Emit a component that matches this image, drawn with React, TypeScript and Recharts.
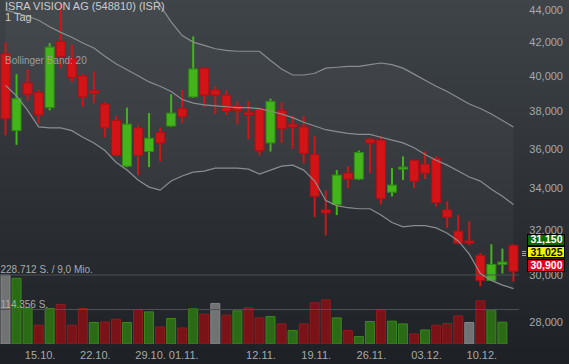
import React from 'react';
import { ComposedChart, Bar, Line, Area, XAxis, YAxis, ReferenceLine, Cell } from 'recharts';

// daily candles, ISRA VISION AG
const dates = [
  '10.10.', '11.10.', '12.10.', '15.10.', '16.10.', '17.10.', '18.10.', '19.10.', '22.10.', '23.10.',
  '24.10.', '25.10.', '26.10.', '29.10.', '30.10.', '31.10.', '01.11.', '02.11.', '05.11.', '06.11.',
  '07.11.', '08.11.', '09.11.', '12.11.', '13.11.', '14.11.', '15.11.', '16.11.', '19.11.', '20.11.',
  '21.11.', '22.11.', '23.11.', '26.11.', '27.11.', '28.11.', '29.11.', '30.11.', '03.12.', '04.12.',
  '05.12.', '06.12.', '07.12.', '10.12.', '11.12.', '12.12.', '13.12.',
];
const opens = [
  41300, 36950, 39600, 39050, 38200, 42050, 41050, 40000, 39150, 38400, 37500, 35100, 37100, 35850, 36850, 37200,
  38150, 38800, 40450, 39200, 38900, 38300, 37950, 38150, 36300, 38050, 37300, 37150, 35700, 32950, 33200, 34750,
  34450, 36500, 36450, 33800, 34950, 35400, 35200, 35500, 32950, 31950, 31500, 30850, 29750, 30450, 31300,
];
const highs = [
  42000, 40100, 40400, 39200, 41950, 44450, 41850, 40100, 40250, 38500, 37750, 38200, 37250, 37900, 37100, 38950,
  39200, 42350, 40500, 39400, 39150, 38550, 38550, 38200, 38700, 38500, 37750, 37750, 36650, 33900, 34900, 35100,
  35900, 36550, 36650, 35000, 35600, 35400, 35850, 35600, 33350, 32700, 32400, 30950, 31350, 31150, 31350,
];
const lows = [
  36700, 36200, 38600, 37350, 38050, 40450, 39650, 38250, 38450, 36600, 35600, 35050, 34650, 35050, 35350, 37150,
  37350, 38750, 38250, 37850, 37800, 37300, 36500, 35650, 35850, 36300, 36000, 35250, 32600, 31750, 32700, 34000,
  34400, 34750, 33200, 33600, 34400, 34000, 34450, 33100, 32100, 31350, 31300, 29500, 29750, 30050, 29700,
];
const closes = [
  37600, 38700, 38950, 37800, 41700, 41150, 39900, 38800, 39000, 37100, 35650, 37300, 35650, 36550, 36300, 37900,
  37700, 40400, 38900, 38900, 38000, 38050, 37800, 35900, 38550, 37050, 37150, 35750, 33600, 32800, 34650, 34450,
  35800, 36300, 33500, 34150, 35050, 34350, 34750, 33300, 32600, 31400, 31400, 29750, 30450, 30550, 30150,
];
const volumes = [
  228712, 217700, 119900, 62300, 117900, 131200, 62300, 117900, 71200, 73200, 82200, 71200, 113200, 106500, 56600,
  84600, 53300, 116500, 98900, 134500, 95500, 109900, 119900, 86600, 91200, 66600, 44600, 66600, 136500, 146500,
  86600, 44600, 24600, 74600, 112200, 75600, 66600, 33300, 46600, 62300, 67900, 93200, 71200, 143200, 113200,
  72200, null,
];
// Bollinger band (20)
const bbUpper = [
  48500, 48700, 49000, 49300, 48800, 48200, 47700, 47300, 47000, 46500, 46100, 45800, 45600, 45250, 44300, 43250,
  42400, 42000, 41800, 41600, 41500, 41450, 41450, 41450, 40900, 40400, 40050, 40050, 40150, 40450, 40500, 40550,
  40550, 40650, 40750, 40650, 40450, 40100, 39750, 39400, 39100, 38750, 38400, 38150, 37850, 37500, 37150,
];
const bbMiddle = [
  44000, 43800, 43600, 43350, 42950, 42600, 42300, 41950, 41650, 41150, 40700, 40350, 40000, 39650, 39400, 39100,
  38650, 38450, 38350, 38300, 38250, 38200, 38200, 38150, 38000, 37850, 37650, 37400, 37200, 37000, 36900, 36800,
  36750, 36750, 36600, 36450, 36300, 36050, 35700, 35400, 35150, 34850, 34550, 34350, 33950, 33600, 33200,
];
const bbLower = [
  39450, 38850, 38050, 37150, 37100, 37100, 36950, 36600, 36300, 35900, 35300, 34900, 34400, 34050, 33900, 34350,
  34600, 34800, 34850, 35000, 35000, 35000, 34950, 34700, 34900, 35100, 35150, 34900, 34350, 33400, 33150, 33050,
  33000, 33000, 32700, 32350, 32150, 32200, 32200, 32100, 31850, 31500, 30900, 30050, 29750, 29550, 29400,
];

const priceTicks = [28000, 30000, 32000, 34000, 36000, 38000, 40000, 42000, 44000];
const dateTicks = ['15.10.', '22.10.', '29.10.', '01.11.', '12.11.', '19.11.', '26.11.', '03.12.', '10.12.'];
const volumeMax = 228712;
const volumeHalf = 114356;

const data = dates.map((date, i) => ({
  date,
  open: opens[i],
  high: highs[i],
  low: lows[i],
  close: closes[i],
  range: [lows[i], highs[i]],
  volume: volumes[i],
  upper: bbUpper[i],
  middle: bbMiddle[i],
  lower: bbLower[i],
  band: [bbLower[i], bbUpper[i]],
}));

const volColor = (i: number) => {
  if (i === 0 || closes[i] === closes[i - 1]) return { fill: '#707274', stroke: '#858789' };
  if (closes[i] > closes[i - 1]) return { fill: '#2c6b16', stroke: '#3b8620' };
  return { fill: '#7a1317', stroke: '#8f1d21' };
};

const font = 'Arial, "Liberation Sans", sans-serif';

function CandleShape(props: any) {
  const { x, y, width, height, payload } = props;
  if (!payload || height == null) return null;
  const { open, close, high, low } = payload;
  const top = Math.min(y, y + height);
  const span = Math.abs(height);
  const lnHigh = Math.log(high);
  const lnSpan = lnHigh - Math.log(low);
  // log axis: pixel position is linear in ln(price)
  const py = (v: number) => top + (span * (lnHigh - Math.log(v))) / lnSpan;
  const up = close >= open;
  const cx = x + width / 2;
  const bodyTop = py(Math.max(open, close));
  const bodyH = Math.max(py(Math.min(open, close)) - bodyTop, 1.5);
  const fill = up ? '#43b51a' : '#d31417';
  const edge = up ? '#2f8a12' : '#a8121a';
  const bw = 9;
  return (
    <g>
      <line x1={cx} x2={cx} y1={top} y2={top + span} stroke={fill} strokeWidth={2} />
      <rect x={cx - bw / 2} y={bodyTop} width={bw} height={bodyH} fill={fill} stroke={edge} strokeWidth={1} />
    </g>
  );
}

const PriceTick = (props: any) => {
  const { y, payload } = props;
  return (
    <text x={563} y={y} dy={4} textAnchor="end" fill="#a7a9ab" fontSize={11} fontFamily={font}>
      {payload.value.toLocaleString('en-US')}
    </text>
  );
};

const DateTick = (props: any) => {
  const { x, payload } = props;
  return (
    <text x={x + 1.5} y={359} textAnchor="middle" fill="#a7a9ab" fontSize={11} fontFamily={font}>
      {payload.value}
    </text>
  );
};

export default function App() {
  return (
    <div
      style={{
        position: 'relative',
        width: 569,
        height: 364,
        background: 'linear-gradient(#3f4449, #1d2024)',
        fontFamily: font,
      }}
    >
      <style>{'body{margin:0}'}</style>
      <ComposedChart
        width={569}
        height={364}
        data={data}
        margin={{ top: 0, right: 0, bottom: 0, left: 0 }}
        barCategoryGap="10%"
      >
        <XAxis
          xAxisId="p"
          dataKey="date"
          ticks={dateTicks}
          interval={0}
          tickLine={false}
          axisLine={false}
          height={20}
          tick={<DateTick />}
        />
        <XAxis xAxisId="v" dataKey="date" hide />
        <YAxis
          yAxisId="p"
          orientation="right"
          scale="log"
          domain={[27134, 44641]}
          allowDataOverflow
          ticks={priceTicks}
          interval={0}
          tickLine={false}
          axisLine={false}
          width={50}
          tick={<PriceTick />}
        />
        <YAxis yAxisId="v" hide domain={[0, 1140000]} allowDataOverflow />
        <ReferenceLine xAxisId="v" yAxisId="v" y={volumeMax} stroke="#4c5155" strokeWidth={1} />
        <ReferenceLine xAxisId="v" yAxisId="v" y={volumeHalf} stroke="#4c5155" strokeWidth={1} />
        <Area
          xAxisId="p"
          yAxisId="p"
          dataKey="band"
          type="linear"
          stroke="none"
          fill="#ffffff"
          fillOpacity={0.035}
          dot={false}
          activeDot={false}
          isAnimationActive={false}
        />
        <Line xAxisId="p" yAxisId="p" dataKey="upper" type="linear" stroke="#8a8d90" strokeWidth={1.2} dot={false} activeDot={false} isAnimationActive={false} />
        <Line xAxisId="p" yAxisId="p" dataKey="middle" type="linear" stroke="#8a8d90" strokeWidth={1.2} dot={false} activeDot={false} isAnimationActive={false} />
        <Line xAxisId="p" yAxisId="p" dataKey="lower" type="linear" stroke="#8a8d90" strokeWidth={1.2} dot={false} activeDot={false} isAnimationActive={false} />
        <Bar xAxisId="v" yAxisId="v" dataKey="volume" barSize={9} isAnimationActive={false}>
          {data.map((d, i) => {
            const c = volColor(i);
            return <Cell key={d.date} fill={c.fill} stroke={c.stroke} strokeWidth={1} />;
          })}
        </Bar>
        <Bar xAxisId="p" yAxisId="p" dataKey="range" barSize={9} shape={CandleShape} isAnimationActive={false} />
      </ComposedChart>

      <svg width={569} height={364} style={{ position: 'absolute', left: 0, top: 0, pointerEvents: 'none' }}>
        <g fontFamily={font}>
          <text x={5} y={10} fontSize={11} fill="#c9cbcd">ISRA VISION AG (548810) (ISR)</text>
          <text x={5} y={20.5} fontSize={11} fill="#c9cbcd">1 Tag</text>
          <text x={5} y={64} fontSize={10} fill="#9b9d9f">Bollinger Band: 20</text>
          <text x={0.5} y={272.5} fontSize={10} fill="#a9abad">228.712 S. / 9,0 Mio.</text>
          <text x={0.5} y={308} fontSize={10} fill="#a9abad">114.356 S.</text>

          <g stroke="#a0a2a4" strokeWidth={1}>
            <line x1={522} x2={526} y1={251.5} y2={251.5} />
            <line x1={522} x2={526} y1={253.5} y2={253.5} />
            <line x1={522} x2={526} y1={255.5} y2={255.5} />
          </g>

          <rect x={527.5} y={234.5} width={37} height={11} fill="#096a0c" stroke="#000" />
          <text x={562.5} y={243.3} textAnchor="end" fontSize={10.5} fontWeight="bold" fill="#ffffff">31,150</text>
          <rect x={527.5} y={246.5} width={37} height={11} fill="#f5f500" stroke="#000" />
          <text x={562.5} y={255.8} textAnchor="end" fontSize={10.5} fontWeight="bold" fill="#111111">31,025</text>
          <rect x={527.5} y={259.5} width={37} height={12} fill="#e0041d" stroke="#000" />
          <text x={562.5} y={269.2} textAnchor="end" fontSize={10.5} fontWeight="bold" fill="#ffffff">30,900</text>
        </g>
      </svg>
    </div>
  );
}
